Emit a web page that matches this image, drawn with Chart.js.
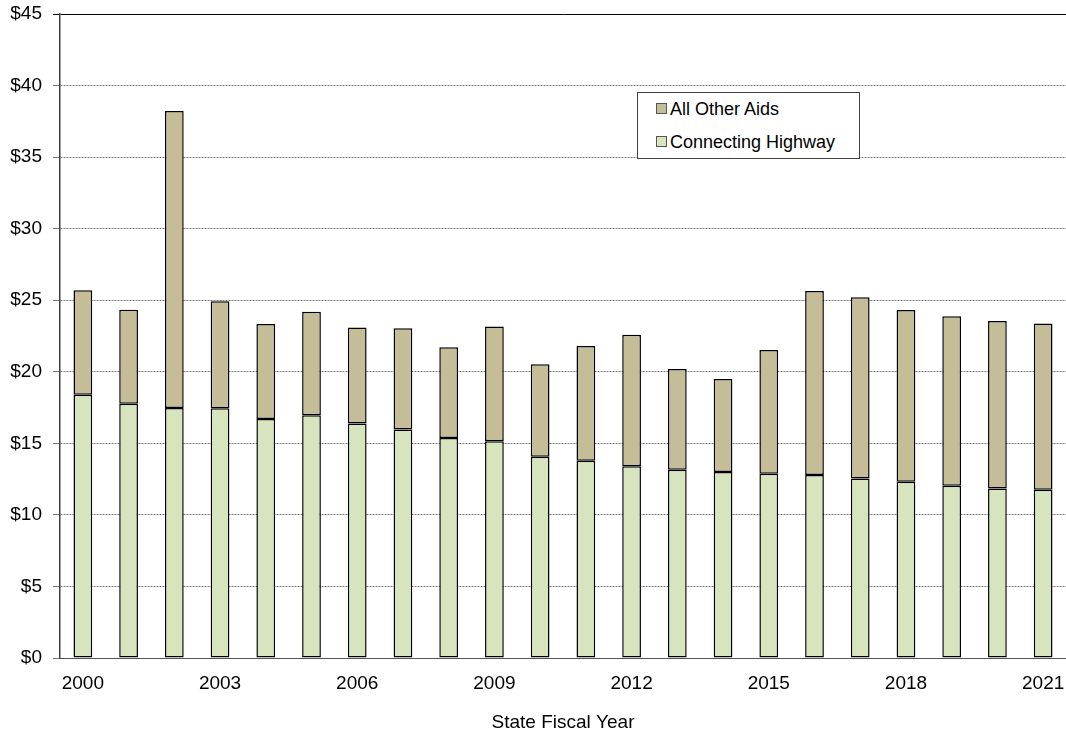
<!DOCTYPE html>
<html>
<head>
<meta charset="utf-8">
<script src="https://cdn.jsdelivr.net/npm/chart.js@4.4.1/dist/chart.umd.min.js"></script>
<style>
    html, body { margin: 0; padding: 0; background: #fff; }
    #wrap { position: relative; width: 1066px; height: 734px; }
    #legend {
        position: absolute; left: 637px; top: 92px; width: 221px; height: 65px;
        border: 1px solid #404040; background: #fff;
        font-family: "Liberation Sans", Arial, sans-serif; font-size: 18px; color: #000;
    }
    #legend .item { position: absolute; left: 18px; height: 20px; line-height: 20px; white-space: nowrap; }
    #legend .box { display: inline-block; width: 9px; height: 9px; border: 1px solid #555; margin-right: 3px; vertical-align: 1px; }
</style>
</head>
<body>
<div id="wrap">
    <canvas id="chart" width="1066" height="734"></canvas>
    <div id="legend">
        <div class="item" style="top:6px"><span class="box" style="background:#C4BD97"></span>All Other Aids</div>
        <div class="item" style="top:39px"><span class="box" style="background:#D7E4BD"></span>Connecting Highway</div>
    </div>
</div>
<script>
const years = ['2000', '2001', '2002', '2003', '2004', '2005', '2006', '2007', '2008', '2009', '2010',
    '2011', '2012', '2013', '2014', '2015', '2016', '2017', '2018', '2019', '2020', '2021'];

// $ millions
const connectingHighway = [18.4, 17.77, 17.47, 17.45, 16.7, 16.96, 16.38, 15.96, 15.37, 15.14, 14.07,
    13.79, 13.39, 13.16, 12.99, 12.87, 12.78, 12.55, 12.32, 12.04, 11.85, 11.76];
const allOtherAids = [7.3, 6.56, 20.75, 7.47, 6.63, 7.23, 6.71, 7.08, 6.34, 8.02, 6.45,
    8.01, 9.19, 7.04, 6.51, 8.66, 12.87, 12.66, 12.0, 11.84, 11.7, 11.61];

const yTicks = [0, 5, 10, 15, 20, 25, 30, 35, 40, 45];

const font = { family: '"Liberation Sans", Arial, sans-serif', size: 19 };

new Chart(document.getElementById('chart').getContext('2d'), {
    type: 'bar',
    data: {
        labels: years,
        datasets: [
            {
                label: 'Connecting Highway',
                data: connectingHighway,
                backgroundColor: '#D7E4BD',
                borderColor: '#000',
                borderWidth: 1.5,
                borderSkipped: false,
                barPercentage: 0.41,
                categoryPercentage: 1,
            },
            {
                label: 'All Other Aids',
                data: allOtherAids,
                backgroundColor: '#C4BD97',
                borderColor: '#000',
                borderWidth: 1.5,
                borderSkipped: false,
                barPercentage: 0.41,
                categoryPercentage: 1,
            },
        ],
    },
    options: {
        responsive: false,
        animation: false,
        layout: { padding: { top: 14, right: -3, bottom: 0, left: 0 } },
        plugins: {
            legend: { display: false },
            tooltip: { enabled: false },
        },
        scales: {
            x: {
                stacked: true,
                grid: { display: false, drawTicks: false },
                border: { display: true, color: '#555', width: 1 },
                ticks: {
                    color: '#000',
                    font: font,
                    padding: 14,
                    autoSkip: false,
                    maxRotation: 0,
                    callback: function(value, index) {
                        return index % 3 === 0 ? years[index] : '';
                    },
                },
                title: {
                    display: true,
                    text: 'State Fiscal Year',
                    color: '#000',
                    font: font,
                    padding: { top: 6, bottom: 0 },
                },
                afterFit: function(scale) {
                    scale.height = 76;
                    scale.paddingLeft = 0;
                    scale.paddingRight = 0;
                },
            },
            y: {
                stacked: true,
                min: 0,
                max: 45,
                afterBuildTicks: function(scale) {
                    scale.ticks = yTicks.map(v => ({ value: v }));
                },
                grid: {
                    color: ctx => ctx.tick && ctx.tick.value === 45 ? '#000' : '#777',
                    lineWidth: 1,
                    tickLength: 7,
                },
                border: {
                    display: true,
                    color: '#404040',
                    width: 1.5,
                    dash: ctx => ctx.tick && ctx.tick.value === 45 ? [] : [2, 1],
                },
                ticks: {
                    color: '#000',
                    font: font,
                    padding: 11,
                    callback: value => '$' + value,
                },
                afterFit: function(scale) {
                    scale.width = 60;
                    scale.paddingTop = 0;
                    scale.paddingBottom = 0;
                },
            },
        },
    },
});
</script>
</body>
</html>
